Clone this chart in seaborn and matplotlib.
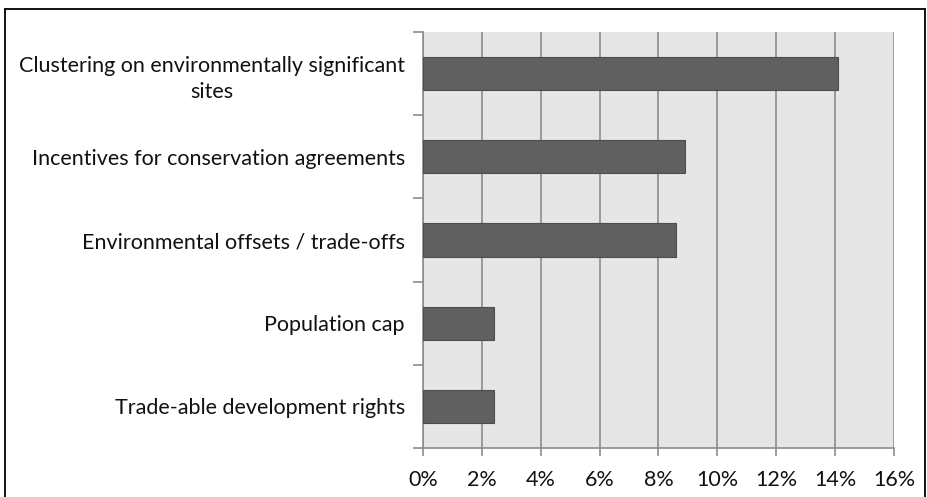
import numpy as np
import pandas as pd
import seaborn as sns
import matplotlib.pyplot as plt
from matplotlib.ticker import FixedLocator, FuncFormatter
from matplotlib.lines import Line2D

categories = [
    "Clustering on environmentally significant\nsites",
    "Incentives for conservation agreements",
    "Environmental offsets / trade-offs",
    "Population cap",
    "Trade-able development rights",
]
values = [14.1, 8.9, 8.6, 2.4, 2.4]
xticks = [0, 2, 4, 6, 8, 10, 12, 14, 16]

sns.set_style("white")
plt.rcParams["font.family"] = ["Lato", "DejaVu Sans"]

df = pd.DataFrame({"measure": categories, "share": values})

fig = plt.figure(figsize=(9.27, 4.97), dpi=100)
ax = fig.add_axes([0.4563, 0.0986, 0.9644 - 0.4563, 0.9356 - 0.0986])
ax.set_facecolor("#e6e6e6")

sns.barplot(data=df, x="share", y="measure", orient="h", color="#606060",
            width=0.4, edgecolor="#4d4d4d", linewidth=0.8, saturation=1, ax=ax, zorder=3)

ax.set_xlim(0, 16)
ax.set_ylim(4.5, -0.5)
ax.set_xticks(xticks)
ax.xaxis.set_major_formatter(FuncFormatter(lambda v, p: f"{v:.0f}%"))
ax.grid(axis="x", color="#8c8c8c", linewidth=1.2, zorder=1)
ax.set_axisbelow(True)
ax.set_xlabel("")
ax.set_ylabel("")

# category boundaries get the short tick marks
ax.yaxis.set_minor_locator(FixedLocator(np.arange(-0.5, 5.0, 1.0)))
ax.tick_params(axis="y", which="major", length=0, pad=13, labelsize=15.5, labelcolor="#111111")
ax.tick_params(axis="y", which="minor", length=7, width=1.2, color="#8c8c8c", direction="out", left=True)
ax.tick_params(axis="x", which="major", length=6, width=1.2, color="#8c8c8c", direction="out",
               bottom=True, pad=10, labelsize=15.5, labelcolor="#111111")
for lab in ax.get_yticklabels():
    lab.set_multialignment("center")
    lab.set_linespacing(1.4)

for side in ["top", "right"]:
    ax.spines[side].set_visible(False)
for side in ["left", "bottom"]:
    ax.spines[side].set_color("#8c8c8c")
    ax.spines[side].set_linewidth(1.2)

# outer frame of the figure
for xs, ys in [([5 / 927, 5 / 927], [0, 1 - 9 / 497]),
               ([5 / 927, 925 / 927], [1 - 9 / 497, 1 - 9 / 497]),
               ([925 / 927, 925 / 927], [0, 1 - 9 / 497])]:
    fig.add_artist(Line2D(xs, ys, color="black", linewidth=1.3, transform=fig.transFigure))

fig.savefig("out.png", dpi=100)
